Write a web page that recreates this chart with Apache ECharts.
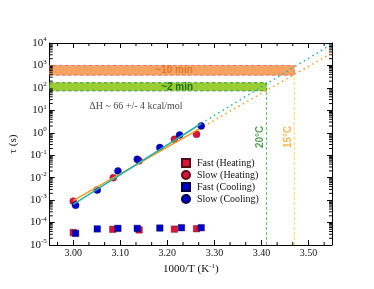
<!DOCTYPE html>
<html><head><meta charset="utf-8">
<script src="https://cdn.jsdelivr.net/npm/echarts@6/dist/echarts.min.js"></script>
<style>html,body{margin:0;padding:0;background:#fff}#c{width:374px;height:289px}</style>
</head><body><div id="c"></div>
<script>
// ---- data ----
const xTickValues = [3.00, 3.10, 3.20, 3.30, 3.40, 3.50];
const xTickLabels = ['3.00', '3.10', '3.20', '3.30', '3.40', '3.50'];
const yDecades = [-5, -4, -3, -2, -1, 0, 1, 2, 3, 4];

const fastHeatingX = [3.000, 3.084, 3.140, 3.215, 3.262];
const fastHeatingY = [3.6e-5, 5.0e-5, 4.7e-5, 5.1e-5, 5.3e-5];
const slowHeatingX = [3.000, 3.085, 3.140, 3.215, 3.262];
const slowHeatingY = [9.0e-4, 0.010, 0.056, 0.51, 0.85];
const fastCoolingX = [3.005, 3.051, 3.095, 3.136, 3.184, 3.230, 3.272];
const fastCoolingY = [3.3e-5, 5.2e-5, 5.5e-5, 5.5e-5, 5.7e-5, 5.9e-5, 5.9e-5];
const slowCoolingX = [3.005, 3.051, 3.095, 3.136, 3.184, 3.226, 3.272];
const slowCoolingY = [5.9e-4, 2.8e-3, 0.020, 0.066, 0.22, 0.79, 2.0];

const heatFitX = [3.000, 3.268];
const heatFitY = [9.5e-4, 1.5];
const heatExtX = [3.268, 3.550];
const heatExtY = [1.5, 3600];
const coolFitX = [3.000, 3.272];
const coolFitY = [6.5e-4, 2.6];
const coolExtX = [3.272, 3.550];
const coolExtY = [2.6, 9000];

const bandLabels = ['~10 min', '~2 min'];
const bandLow = [370, 74];
const bandHigh = [1000, 170];
const tempLabels = ['20°C', '15°C'];
const tempX = [3.411, 3.470];
const dHText = 'ΔH ~ 66 +/- 4 kcal/mol';

const X_MIN = 2.95, X_MAX = 3.55, Y_MIN = 1e-5, Y_MAX = 1e4;

// minor tick positions
const xMinor = [];
for (let m = 2.9; m < 3.56; m += 0.1) {
  [1/30, 2/30].forEach(d => { const v = m + d; if (v > X_MIN + 1e-6 && v < X_MAX - 1e-6) xMinor.push(v); });
}
const yMinor = [];
yDecades.slice(0, -1).forEach(e => { for (let k = 2; k <= 9; k++) yMinor.push(k * Math.pow(10, e)); });
const tickData = xMinor.map(v => [v, 1, 0]).concat(yMinor.map(v => [3.0, v, 1]));

const zip = (a, b) => a.map((v, i) => [v, b[i]]);
const SERIF = 'Liberation Serif';
const red = '#dc143c', blue = '#0000cd';

const axisLineStyle = { lineStyle: { color: '#000', width: 1 } };
const chart = echarts.init(document.getElementById('c'), null, { renderer: 'canvas' });
chart.setOption({
  animation: false,
  grid: { left: 44, top: 43, right: 42, bottom: 44 },
  legend: {
    data: [
      { name: 'Fast (Heating)', icon: 'rect', itemStyle: { color: red } },
      { name: 'Slow (Heating)', icon: 'circle', itemStyle: { color: red } },
      { name: 'Fast (Cooling)', icon: 'rect', itemStyle: { color: blue } },
      { name: 'Slow (Cooling)', icon: 'circle', itemStyle: { color: blue } }
    ],
    orient: 'vertical', left: 181, top: 157, itemWidth: 8, itemHeight: 8, itemGap: 0,
    padding: 0,
    textStyle: { fontFamily: SERIF, fontSize: 10, color: '#111', lineHeight: 12, padding: [0, 0, 0, 2] }
  },
  xAxis: [
    {
      type: 'value', min: X_MIN, max: X_MAX, position: 'bottom',
      name: '1000/T (K{s|-1})', nameLocation: 'middle', nameGap: 17,
      nameTextStyle: { fontFamily: SERIF, fontSize: 11, color: '#111',
        rich: { s: { fontFamily: SERIF, fontSize: 7, padding: [0, 0, 6, 0], verticalAlign: 'bottom' } } },
      axisLine: axisLineStyle, splitLine: { show: false },
      axisTick: { inside: true, length: 5, customValues: xTickValues, lineStyle: { color: '#000' } },
      axisLabel: { customValues: xTickValues, formatter: v => xTickLabels[xTickValues.findIndex(t => Math.abs(t - v) < 1e-6)] || '',
        fontFamily: SERIF, fontSize: 10, color: '#111', margin: 3 }
    },
    {
      type: 'value', min: X_MIN, max: X_MAX, position: 'top',
      axisLine: axisLineStyle, splitLine: { show: false },
      axisTick: { inside: true, length: 5, customValues: xTickValues, lineStyle: { color: '#000' } },
      axisLabel: { show: false }
    }
  ],
  yAxis: [
    {
      type: 'log', logBase: 10, min: Y_MIN, max: Y_MAX, interval: 1, position: 'left',
      name: 'τ (s)', nameLocation: 'middle', nameGap: 27,
      nameTextStyle: { fontFamily: SERIF, fontSize: 11, color: '#111' },
      axisLine: axisLineStyle, splitLine: { show: false },
      axisTick: { inside: true, length: 5, lineStyle: { color: '#000' } },
      axisLabel: {
        formatter: v => '10{s|' + Math.round(Math.log10(v)) + '}',
        fontFamily: SERIF, fontSize: 11, color: '#111', margin: 3,
        rich: { s: { fontFamily: SERIF, fontSize: 7, padding: [0, 0, 7, 0], verticalAlign: 'bottom', color: '#111' } }
      }
    },
    {
      type: 'log', logBase: 10, min: Y_MIN, max: Y_MAX, interval: 1, position: 'right',
      axisLine: axisLineStyle, splitLine: { show: false },
      axisTick: { inside: true, length: 5, lineStyle: { color: '#000' } },
      axisLabel: { show: false }
    }
  ],
  series: [
    {
      type: 'custom', silent: true, z: 1, clip: false,
      data: tickData,
      encode: { x: 0, y: 1 },
      renderItem: (params, api) => {
        const kind = api.value(2);
        const st = { stroke: '#000', lineWidth: 1 };
        if (kind === 0) {
          const b = api.coord([api.value(0), Y_MIN]);
          const t = api.coord([api.value(0), Y_MAX]);
          return { type: 'group', children: [
            { type: 'line', shape: { x1: b[0], y1: b[1], x2: b[0], y2: b[1] - 3 }, style: st },
            { type: 'line', shape: { x1: t[0], y1: t[1], x2: t[0], y2: t[1] + 3 }, style: st }
          ] };
        }
        const l = api.coord([X_MIN, api.value(1)]);
        const r = api.coord([X_MAX, api.value(1)]);
        return { type: 'group', children: [
          { type: 'line', shape: { x1: l[0], y1: l[1], x2: l[0] + 3, y2: l[1] }, style: st },
          { type: 'line', shape: { x1: r[0], y1: r[1], x2: r[0] - 3, y2: r[1] }, style: st }
        ] };
      }
    },
    {
      type: 'scatter', name: 'bands', silent: true, symbolSize: 0, data: [], z: 2,
      markArea: {
        silent: true,
        data: [
          [{ xAxis: X_MIN, yAxis: bandLow[0], itemStyle: { color: '#f4a460', borderColor: '#e8776a', borderWidth: 1, borderType: 'dashed' },
             label: { show: true, position: 'inside', formatter: bandLabels[0], color: '#e0782e', fontWeight: 'bold', fontSize: 10, fontFamily: 'Liberation Sans', offset: [2, 0] } },
           { xAxis: tempX[1], yAxis: bandHigh[0] }],
          [{ xAxis: X_MIN, yAxis: bandLow[1], itemStyle: { color: '#9acd32', borderColor: '#3e9a3e', borderWidth: 1, borderType: 'dashed' },
             label: { show: true, position: 'inside', formatter: bandLabels[1], color: '#1f6f1f', fontWeight: 'bold', fontSize: 10, fontFamily: 'Liberation Sans', offset: [19, 0] } },
           { xAxis: tempX[0], yAxis: bandHigh[1] }]
        ]
      }
    },
    { type: 'line', silent: true, symbol: 'none', z: 3, data: [[tempX[0], Y_MIN], [tempX[0], bandLow[1]]],
      lineStyle: { color: '#62b862', width: 1, type: [3, 2] } },
    { type: 'line', silent: true, symbol: 'none', z: 3, data: [[tempX[1], Y_MIN], [tempX[1], bandLow[0]]],
      lineStyle: { color: '#ffe36e', width: 1.2, type: [3, 2] } },
    { type: 'line', silent: true, symbol: 'none', z: 4, data: zip(heatExtX, heatExtY),
      lineStyle: { color: '#f99b1c', width: 1.5, type: [1.5, 3.5] } },
    { type: 'line', silent: true, symbol: 'none', z: 4, data: zip(coolExtX, coolExtY),
      lineStyle: { color: '#27b3ad', width: 1.5, type: [1.5, 3.5] } },
    { type: 'scatter', name: 'Fast (Heating)', symbol: 'rect', symbolSize: 6.5, z: 5, data: zip(fastHeatingX, fastHeatingY),
      itemStyle: { color: red, borderColor: '#5a0a18', borderWidth: 0.4, opacity: 1 } },
    { type: 'scatter', name: 'Fast (Cooling)', symbol: 'rect', symbolSize: 6.5, z: 5, data: zip(fastCoolingX, fastCoolingY),
      itemStyle: { color: blue, borderColor: '#00004a', borderWidth: 0.4, opacity: 1 } },
    { type: 'scatter', name: 'Slow (Heating)', symbol: 'circle', symbolSize: 7, z: 5, data: zip(slowHeatingX, slowHeatingY),
      itemStyle: { color: red, borderColor: '#5a0a18', borderWidth: 0.4, opacity: 1 } },
    { type: 'scatter', name: 'Slow (Cooling)', symbol: 'circle', symbolSize: 7, z: 6, data: zip(slowCoolingX, slowCoolingY),
      itemStyle: { color: blue, borderColor: '#00004a', borderWidth: 0.4, opacity: 1 } },
    { type: 'line', silent: true, symbol: 'none', z: 7, data: zip(heatFitX, heatFitY),
      lineStyle: { color: '#f99b1c', width: 1.6 } },
    { type: 'line', silent: true, symbol: 'none', z: 7, data: zip(coolFitX, coolFitY),
      lineStyle: { color: '#27b3ad', width: 1.6 } },
    { type: 'scatter', silent: true, symbolSize: 0, z: 7,
      data: [[3.034, 15.5]],
      label: { show: true, position: 'inside', align: 'left', formatter: dHText, fontFamily: SERIF, fontSize: 10, color: '#111' } },
    { type: 'scatter', silent: true, symbolSize: 0, z: 7,
      data: [[3.398, 0.66]],
      label: { show: true, position: 'inside', rotate: 90, formatter: tempLabels[0], fontFamily: 'Liberation Sans', fontWeight: 'bold', fontSize: 10, color: '#2a8a2a' } },
    { type: 'scatter', silent: true, symbolSize: 0, z: 7,
      data: [[3.458, 0.66]],
      label: { show: true, position: 'inside', rotate: 90, formatter: tempLabels[1], fontFamily: 'Liberation Sans', fontWeight: 'bold', fontSize: 10, color: '#f5a623' } }
  ]
});
</script></body></html>
